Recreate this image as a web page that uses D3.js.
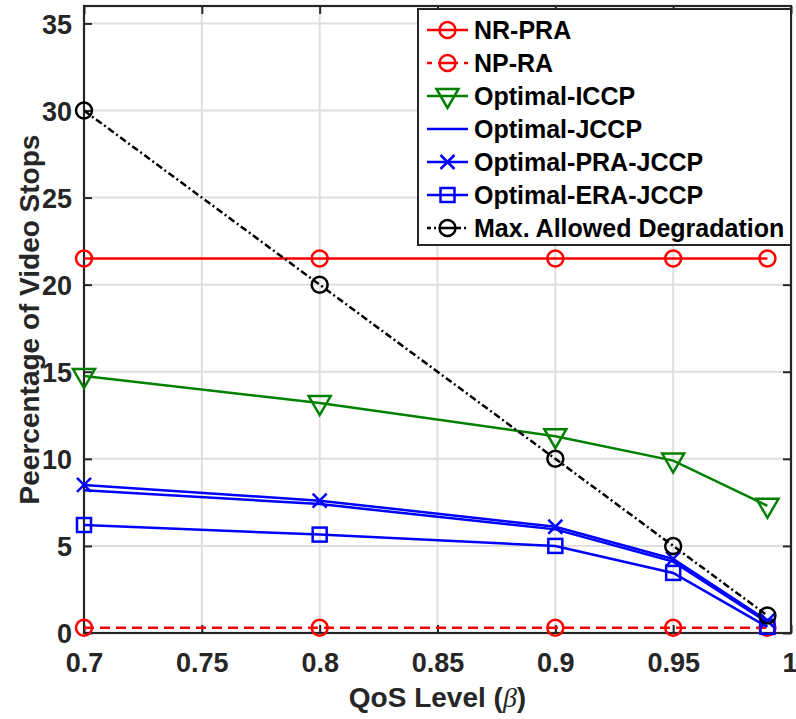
<!DOCTYPE html>
<html><head><meta charset="utf-8">
<script src="https://cdn.jsdelivr.net/npm/d3@7"></script>
<style>body{margin:0;background:#fff}svg{display:block}text{font-family:"Liberation Sans",Arial,sans-serif;font-weight:bold}</style>
</head><body>
<script>
const betas = [0.7, 0.8, 0.9, 0.95, 0.99];
const nrPra = [21.5, 21.5, 21.5, 21.5, 21.5];
const npRa = [0.3, 0.3, 0.3, 0.3, 0.3];
const optICCP = [14.75, 13.2, 11.3, 9.9, 7.3];
const optJCCP = [8.2, 7.4, 5.95, 4.1, 0.6];
const optPRAJCCP = [8.5, 7.6, 6.1, 4.25, 0.7];
const optERAJCCP = [6.2, 5.65, 5.0, 3.45, 0.35];
const maxDeg = [30, 20, 10, 5, 1];
const xTicks = [0.7, 0.75, 0.8, 0.85, 0.9, 0.95, 1];
const yTicks = [0, 5, 10, 15, 20, 25, 30, 35];
const xTickLabels = ["0.7", "0.75", "0.8", "0.85", "0.9", "0.95", "1"];

const series = [
  {name: "NR-PRA", v: nrPra, color: "#ff0000", dash: null, marker: "circle"},
  {name: "NP-RA", v: npRa, color: "#ff0000", dash: "10,6", marker: "circle"},
  {name: "Optimal-ICCP", v: optICCP, color: "#008000", dash: null, marker: "triangle"},
  {name: "Optimal-JCCP", v: optJCCP, color: "#0000ff", dash: null, marker: null},
  {name: "Optimal-PRA-JCCP", v: optPRAJCCP, color: "#0000ff", dash: null, marker: "x"},
  {name: "Optimal-ERA-JCCP", v: optERAJCCP, color: "#0000ff", dash: null, marker: "square"},
  {name: "Max. Allowed Degradation", v: maxDeg, color: "#000000", dash: "7,3,2,3", marker: "circle"}
];

const W = 796, H = 719;
const L = 84, R = 791, T = 6, B = 633;
const svg = d3.select("body").append("svg").attr("width", W).attr("height", H);
const x = d3.scaleLinear().domain([0.7, 1]).range([L, R]);
const y = d3.scaleLinear().domain([0, 36]).range([B, T]);
const axCol = "#262626";

// grid
const g = svg.append("g");
g.selectAll(".gx").data(xTicks.slice(1, -1)).join("line")
  .attr("x1", d => x(d)).attr("x2", d => x(d)).attr("y1", T).attr("y2", B)
  .attr("stroke", "#dfdfdf").attr("stroke-width", 2);
g.selectAll(".gy").data(yTicks.slice(1)).join("line")
  .attr("y1", d => y(d)).attr("y2", d => y(d)).attr("x1", L).attr("x2", R)
  .attr("stroke", "#dfdfdf").attr("stroke-width", 2);

// axes
const xAxis = d3.axisBottom(x).tickValues(xTicks).tickFormat((d, i) => xTickLabels[i]).tickSizeInner(-8).tickSizeOuter(0).tickPadding(20);
const yAxis = d3.axisLeft(y).tickValues(yTicks).tickFormat(d3.format("d")).tickSizeInner(-8).tickSizeOuter(0).tickPadding(12);
const xa = svg.append("g").attr("transform", `translate(0,${B})`).call(xAxis);
const ya = svg.append("g").attr("transform", `translate(${L},0)`).call(yAxis);
const xt = svg.append("g").attr("transform", `translate(0,${T})`).call(d3.axisTop(x).tickValues(xTicks).tickFormat("").tickSizeInner(-8).tickSizeOuter(0));
const yr = svg.append("g").attr("transform", `translate(${R},0)`).call(d3.axisRight(y).tickValues(yTicks).tickFormat("").tickSizeInner(-8).tickSizeOuter(0));
[xa, ya, xt, yr].forEach(a => {
  a.select(".domain").remove();
  a.selectAll("line").attr("stroke", axCol).attr("stroke-width", 2);
  a.selectAll("text").attr("fill", axCol).style("font-size", "27px").style("font-family", "Liberation Sans, Arial, sans-serif").style("font-weight", "bold");
});
xa.selectAll("text").attr("dy", "0.71em");
xa.selectAll("text").filter(d => d === 1).attr("text-anchor", "end").attr("dx", 6);
ya.selectAll("text").attr("dy", "0.36em");
svg.append("rect").attr("x", L).attr("y", T).attr("width", R - L).attr("height", B - T)
  .attr("fill", "none").attr("stroke", axCol).attr("stroke-width", 2.2);

function drawMarker(sel, type, color) {
  if (type === "circle") {
    sel.append("circle").attr("r", 8).attr("fill", "none").attr("stroke", color).attr("stroke-width", 2.5);
  } else if (type === "triangle") {
    sel.append("path").attr("d", "M-11,-7L11,-7L0,12Z").attr("fill", "none").attr("stroke", color).attr("stroke-width", 2.5);
  } else if (type === "square") {
    sel.append("rect").attr("x", -7).attr("y", -7).attr("width", 14).attr("height", 14).attr("fill", "none").attr("stroke", color).attr("stroke-width", 2.5);
  } else if (type === "x") {
    sel.append("path").attr("d", "M-7,-7L7,7M-7,7L7,-7").attr("fill", "none").attr("stroke", color).attr("stroke-width", 2.5);
  }
}

const plot = svg.append("g");
const line = d3.line().x(d => x(d[0])).y(d => y(d[1]));
series.forEach(s => {
  const pts = betas.map((b, i) => [b, s.v[i]]);
  plot.append("path").datum(pts).attr("d", line).attr("fill", "none")
    .attr("stroke", s.color).attr("stroke-width", 2.5).attr("stroke-dasharray", s.dash);
  if (s.marker) {
    pts.forEach(p => {
      const m = plot.append("g").attr("transform", `translate(${x(p[0])},${y(p[1])})`);
      drawMarker(m, s.marker, s.color);
    });
  }
});

// legend
const lg = svg.append("g");
lg.append("rect").attr("x", 418).attr("y", 9).attr("width", 373).attr("height", 236)
  .attr("fill", "#fff").attr("stroke", axCol).attr("stroke-width", 2);
series.forEach((s, i) => {
  const cy = 30 + i * 33;
  lg.append("line").attr("x1", 427).attr("x2", 468).attr("y1", cy).attr("y2", cy)
    .attr("stroke", s.color).attr("stroke-width", 2.5).attr("stroke-dasharray", s.dash ? (s.name === "NP-RA" ? "5,6,20,6,5" : "4,3,2,3,22,3,2,3,4") : null);
  if (s.marker) {
    const m = lg.append("g").attr("transform", `translate(447.5,${cy})`);
    drawMarker(m, s.marker, s.color);
  }
  lg.append("text").attr("x", 474).attr("y", cy).attr("dy", "0.36em")
    .style("font-size", "25px").attr("fill", "#000").text(s.name);
});

// axis labels
const xl = svg.append("text").attr("x", (L + R) / 2).attr("y", 707).attr("text-anchor", "middle")
  .style("font-size", "28px").attr("fill", axCol);
xl.append("tspan").text("QoS Level (");
xl.append("tspan").style("font-style", "italic").style("font-weight", "normal").style("font-family", "Liberation Serif, DejaVu Serif, serif").text("β");
xl.append("tspan").text(")");
svg.append("text").attr("transform", `translate(39,${(T + B) / 2}) rotate(-90)`).attr("text-anchor", "middle")
  .style("font-size", "28px").attr("fill", axCol).text("Peercentage of Video Stops");
</script>
</body></html>
